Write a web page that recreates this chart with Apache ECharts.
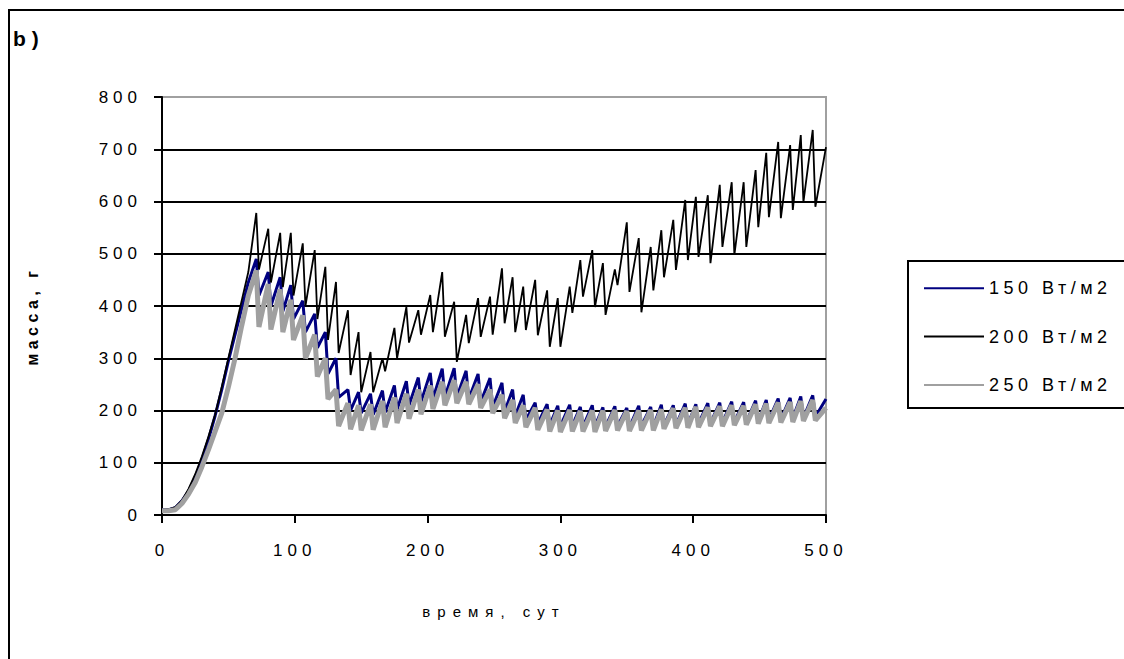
<!DOCTYPE html>
<html><head><meta charset="utf-8">
<script src="https://cdn.jsdelivr.net/npm/echarts@6/dist/echarts.min.js"></script>
<style>
html,body{margin:0;padding:0;background:#fff;}
#c{width:1124px;height:659px;}
text[style*="17px"]{letter-spacing:5px;}
text[style*="18px"]{letter-spacing:4.5px;}
text[style*="15px"]{letter-spacing:7px;}
text[style*="16px"]{letter-spacing:4.5px;}
text[style*="21px"]{letter-spacing:6px;}
</style>
</head><body><div id="c"></div>
<script>
// time, days
const days = [0,5,10,15,20,25,30,35,40,45,50,55,60,65,
  71,73,80,82,89,91,97,99,106,108,115,117,123,125,131,133,140,142,148,150,
  157,159,166,168,175,177,184,186,193,195,202,204,211,213,220,222,229,231,238,240,
  247,249,256,258,264,266,272,274,281,283,290,292,298,300,307,309,315,317,324,326,
  332,334,341,343,350,352,359,361,368,370,376,378,385,387,394,396,402,404,411,413,
  420,422,429,431,438,440,447,449,455,457,464,466,473,475,481,483,490,492,500];
// mass, g — 150 W/m2
const mass150 = [10,10,14,27,46,72,105,145,190,240,295,345,395,445,
  490,420,465,400,455,390,440,375,410,350,385,320,350,270,300,225,240,200,235,195,
  232,192,238,196,248,202,256,210,263,216,272,222,280,226,281,226,276,222,270,216,
  262,206,253,198,240,190,230,182,215,175,212,172,209,170,211,171,207,169,210,170,
  206,169,208,170,205,168,209,171,207,170,211,172,210,172,213,174,212,175,214,176,
  215,177,217,178,216,178,219,180,220,182,223,183,224,185,227,186,229,188,222];
// mass, g — 200 W/m2
const mass200 = [10,11,15,28,50,78,112,150,192,245,300,355,410,465,
  578,470,548,445,540,436,540,420,520,400,507,375,475,335,446,310,392,268,350,235,
  312,235,300,275,358,300,398,330,392,345,421,350,465,341,408,293,383,329,415,341,
  418,345,472,367,455,350,437,354,450,344,430,322,415,322,437,387,488,418,507,398,
  482,383,470,440,560,427,530,388,513,430,545,455,565,469,603,488,609,494,612,482,
  632,513,637,498,637,513,660,551,693,570,714,568,708,584,727,599,737,590,704];
// mass, g — 250 W/m2
const mass250 = [8,8,10,22,40,62,92,125,160,195,245,300,362,420,
  468,360,442,355,432,350,412,335,382,300,345,265,300,222,240,170,214,164,210,162,
  212,163,218,168,225,176,232,184,240,193,248,203,255,210,258,214,255,212,250,205,
  240,195,230,185,220,176,210,168,205,163,202,160,200,159,201,160,199,160,200,159,
  200,161,201,162,199,161,200,162,201,162,202,165,204,166,205,167,207,168,206,170,
  208,170,210,172,209,173,212,175,213,176,215,177,216,178,218,180,220,181,205];
const seriesNames = ['150 Вт/м2','200 Вт/м2','250 Вт/м2'];
const seriesColors = ['#000080','#000000','#a0a0a0'];
const seriesWidths = [3, 1.8, 5];
const xAxisTicks = [0,100,200,300,400,500];
const yAxisTicks = [0,100,200,300,400,500,600,700,800];
const xAxisTitle = 'время, сут';
const yAxisTitle = 'масса, г';
const panelLabel = 'b)';

const allValues = [mass150, mass200, mass250];
const font = 'Liberation Sans, Arial, sans-serif';

const chart = echarts.init(document.getElementById('c'), null, {renderer:'svg'});
chart.setOption({
  animation:false,
  backgroundColor:'#fff',
  grid:{left:162, right:298, top:97, bottom:144, show:true, borderColor:'#a0a0a0', borderWidth:2, containLabel:false},
  graphic:[
    {type:'rect', shape:{x:9, y:10, width:1200, height:700}, style:{fill:'none', stroke:'#000', lineWidth:2}, silent:true, z:-1},
    {type:'rect', shape:{x:908, y:261, width:220, height:147}, style:{fill:'#fff', stroke:'#000', lineWidth:2}, silent:true, z:-1},
    {type:'text', left:13, top:28, style:{text:panelLabel, font:'bold 21px ' + font, fill:'#000'}}
  ],
  legend:{
    orient:'vertical', left:918, top:268, itemWidth:60, itemHeight:38, itemGap:18,
    itemStyle:{opacity:0},
    textStyle:{fontSize:18, fontFamily:font, color:'#000', padding:[0,0,15,0]},
    data:seriesNames
  },
  xAxis:{
    type:'value', min:xAxisTicks[0], max:xAxisTicks[xAxisTicks.length-1], interval:100,
    axisLine:{show:true, lineStyle:{color:'#000', width:2}},
    axisTick:{show:true, length:8, lineStyle:{color:'#000', width:2}},
    axisLabel:{margin:27, fontSize:17, fontFamily:font, color:'#000'},
    splitLine:{show:false},
    name:xAxisTitle, nameLocation:'middle', nameGap:89,
    nameTextStyle:{fontSize:15, fontFamily:font, color:'#000'}
  },
  yAxis:{
    type:'value', min:yAxisTicks[0], max:yAxisTicks[yAxisTicks.length-1], interval:100,
    axisLine:{show:true, lineStyle:{color:'#000', width:2}},
    axisTick:{show:true, length:8, lineStyle:{color:'#000', width:2}},
    axisLabel:{margin:20, fontSize:17, fontFamily:font, color:'#000'},
    splitLine:{show:true, lineStyle:{color:['#000','#000','#000','#000','#000','#000','#000','#000','#a0a0a0'], width:2}},
    name:yAxisTitle, nameLocation:'middle', nameGap:122,
    nameTextStyle:{fontSize:16, fontWeight:'bold', fontFamily:font, color:'#000', padding:[0,20,0,0]}
  },
  series: allValues.map((vals, i) => ({
    name:seriesNames[i], type:'line', showSymbol:false, symbol:'none',
    data: days.map((d, k) => [d, vals[k]]),
    lineStyle:{color:seriesColors[i], width:seriesWidths[i]},
    itemStyle:{color:seriesColors[i]},
    z: 2 + i
  }))
});
</script>
</body></html>
